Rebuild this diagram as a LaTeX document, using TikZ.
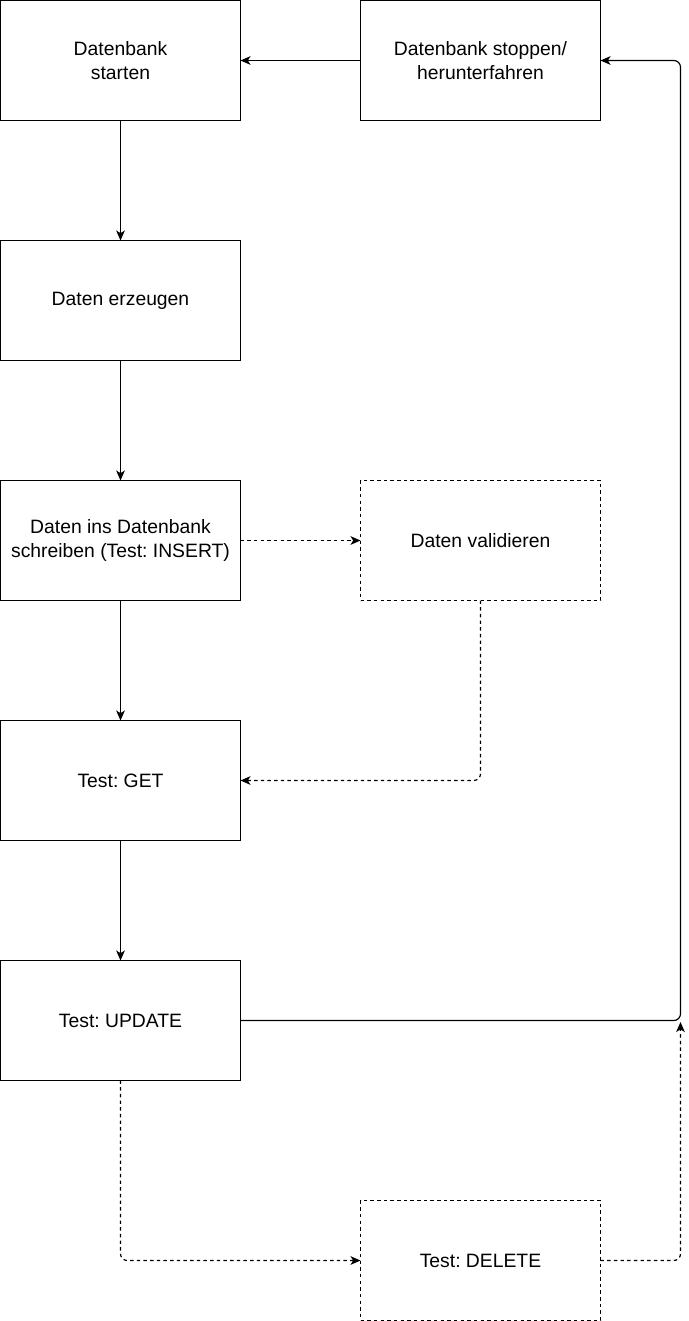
\documentclass[tikz,border=0pt]{standalone}
\usepackage{fontspec}
\setmainfont{Liberation Sans}
\usepackage{tikz}
\usetikzlibrary{arrows.meta}
\frenchspacing

\begin{document}
\begin{tikzpicture}[x=0.75pt,y=-0.75pt,
    stepbox/.style={draw,line width=0.9pt,minimum width=180pt,minimum height=90pt,
      outer sep=0pt,align=center,font=\fontsize{14.5}{18}\selectfont},
    optbox/.style={stepbox,dashed,dash pattern=on 2.6pt off 2.4pt},
    flow/.style={line width=0.9pt,-{Stealth[length=7.5pt,width=6.5pt,inset=2pt]}},
    optflow/.style={flow,dash pattern=on 2.6pt off 2.4pt}]
          \useasboundingbox (0,0) rectangle (689,1321);
          \node[stepbox] (start) at (120.5,60.5) {Datenbank\\starten};
          \node[stepbox] (stop) at (480.5,60.5) {Datenbank stoppen/\\herunterfahren};
          \node[stepbox] (erzeugen) at (120.5,300.5) {Daten erzeugen};
          \node[stepbox] (schreiben) at (120.5,540.5) {Daten ins Datenbank\\schreiben (Test: INSERT)};
          \node[optbox] (validieren) at (480.5,540.5) {Daten validieren};
          \node[stepbox] (get) at (120.5,780.5) {Test: GET};
          \node[stepbox] (update) at (120.5,1020.5) {Test: UPDATE};
          \node[optbox] (delete) at (480.5,1260.5) {Test: DELETE};
          \coordinate (rail) at (680.5,1020.5);
          \coordinate (railin) at (680.5,1022);

          % main flow
          \draw[flow] (stop) -- (start);
          \draw[flow] (start) -- (erzeugen);
          \draw[flow] (erzeugen) -- (schreiben);
          \draw[flow] (schreiben) -- (get);
          \draw[flow] (get) -- (update);
          \draw[flow,rounded corners=5pt] (update.east) -- (rail) |- (stop.east);

          % optional steps
          \draw[optflow] (schreiben) -- (validieren);
          \draw[optflow,rounded corners=5pt] (validieren.south) |- (get.east);
          \draw[optflow,rounded corners=5pt] (update.south) |- (delete.west);
          \draw[optflow,rounded corners=5pt] (delete.east) -| (railin);
        \end{tikzpicture}
\end{document}
